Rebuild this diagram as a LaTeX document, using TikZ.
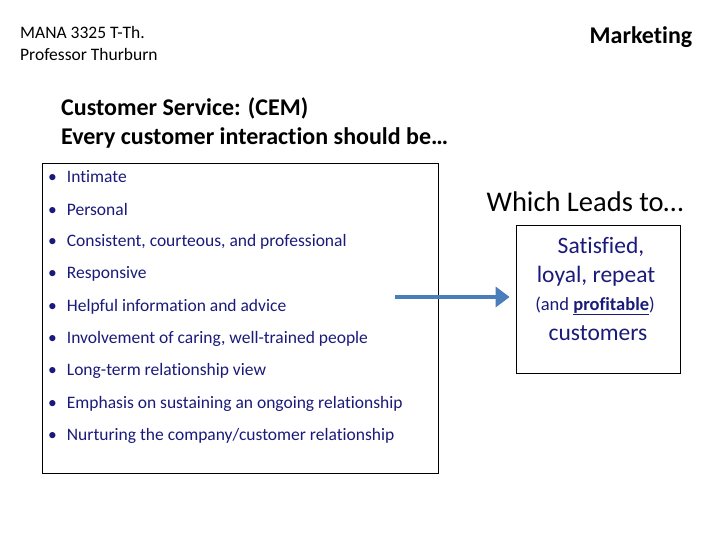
\documentclass[tikz,border=0pt]{standalone}
\usepackage{fontspec}
\setmainfont[Ligatures=NoCommon]{Carlito}
\usetikzlibrary{arrows.meta}
\definecolor{navy}{HTML}{1A1A7A}
\definecolor{arrowblue}{HTML}{4A7EBB}
\tikzset{
  hdr/.style={anchor=west,inner sep=0pt,font=\fontsize{17.5}{19}\selectfont},
  bullet/.style={anchor=west,inner sep=0pt,text=navy,font=\fontsize{17.5}{19}\selectfont},
  box/.style={draw=black,line width=0.8pt},
  rt/.style={inner sep=0pt,text=navy}
}
\begin{document}
\begin{tikzpicture}[x=1pt,y=-1pt]
\useasboundingbox (0,0) rectangle (720,540);
\node[hdr] (m1) at (20,32) {MANA 3325 T-Th.};
\node[hdr] (m2) at (20,54) {Professor Thurburn};
\node[anchor=center,inner sep=0pt,font=\bfseries\fontsize{24}{26}\selectfont] (mk) at (641,37) {Marketing};
\node[anchor=west,inner sep=0pt,font=\bfseries\fontsize{24}{26}\selectfont] (h1) at (61,108) {Customer Service: (CEM)};
\node[anchor=west,inner sep=0pt,font=\bfseries\fontsize{24}{26}\selectfont] (h2) at (61,138) {Every customer interaction should be…};
\node[box,minimum width=396pt,minimum height=310pt,inner sep=0pt] (lb) at (240,318) {};
\foreach \t [count=\i] in {Intimate,Personal,{Consistent, courteous, and professional},Responsive,Helpful information and advice,{Involvement of caring, well-trained people},Long-term relationship view,Emphasis on sustaining an ongoing relationship,Nurturing the company/customer relationship}{
  \pgfmathsetmacro{\yy}{177+(\i-1)*32.4}
  \node[bullet] (b\i) at (48,\yy) {\textbullet\hspace{10pt}\t};
}
\node[anchor=center,inner sep=0pt,font=\fontsize{28.5}{31}\selectfont] (wl) at (585,202) {Which Leads to…};
\node[box,minimum width=164pt,minimum height=148pt,inner sep=0pt] (rb) at (598,299) {};
\node[rt,font=\fontsize{23.5}{26}\selectfont] (r1) at (601,247) {Satisfied,};
\node[rt,font=\fontsize{23.5}{26}\selectfont] (r2) at (596,276) {loyal, repeat};
\node[rt,font=\fontsize{18.5}{21}\selectfont] (r3) at (595,306) {(and \underline{\textbf{profitable}})};
\node[rt,font=\fontsize{23.5}{26}\selectfont] (r4) at (598,333) {customers};
\coordinate (as) at (395,297);
\draw[arrowblue,line width=4.5pt,-{Triangle[length=14pt,width=20pt]}] (as) -- ([xshift=-6pt]rb.west|-as);
\end{tikzpicture}
\end{document}
